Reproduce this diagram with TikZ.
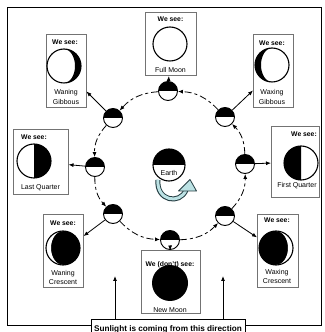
\documentclass[tikz,border=0pt]{standalone}
\usepackage{fontspec}
\setmainfont{Liberation Sans}
\usetikzlibrary{arrows.meta}
\definecolor{boxgray}{gray}{0.45}
\definecolor{spinfill}{RGB}{188,226,228}
\definecolor{spinline}{RGB}{35,60,65}

\tikzset{
  % lunar face as seen from Earth, radius 17
  pics/gibbous/.style={code={
    \fill[white] (0,0) circle (17);
    \fill[black] (0,17) arc (90:-90:17) arc (-90:90:#1 and 17) -- cycle;
    \draw[line width=1.1pt] (0,0) circle (17);}},
  pics/crescent/.style={code={
    \fill[black] (0,0) circle (17);
    \fill[white] (0,17) arc (90:270:17) arc (270:90:#1 and 17) -- cycle;
    \draw[line width=1.1pt] (0,0) circle (17);}},
  pics/quarter/.style={code={
    \fill[white] (0,0) circle (17);
    \fill[black] (0,17) arc (90:-90:17) -- cycle;
    \draw[line width=1.1pt] (0,0) circle (17);}}
}

\begin{document}
\begin{tikzpicture}[x=1pt,y=1pt,
  tip/.style={-{Latex[length=5pt,width=4pt]}, line width=0.8pt},
  orbitmoon/.style={circle,draw,line width=0.9pt,minimum size=19pt,inner sep=0pt,
    path picture={\fill[black] (path picture bounding box.west) rectangle (path picture bounding box.north east);}},
  phasebox/.style={draw=boxgray,line width=0.5pt,inner sep=0pt,anchor=south west},
  caption/.style={font=\fontsize{7}{9.5}\selectfont,align=center,inner sep=0pt},
  heading/.style={font=\bfseries\fontsize{6.8}{8}\selectfont,inner sep=0pt},
  orbit/.style={line width=0.8pt,dash pattern=on 7pt off 3pt on 3pt off 3pt,
    -{Latex[length=5pt,width=4pt]}, bend right=22}
]
\useasboundingbox (0,0) rectangle (324,332);
\fill[white] (0,0) rectangle (324,332);

% outer frame
\draw[line width=0.9pt] (7,7) rectangle (321,325);

% Earth and its rotation
\node[orbitmoon,minimum size=32pt,line width=1.1pt] (earth) at (169,167) {};
\node[font=\fontsize{7}{8}\selectfont,inner sep=0pt] (earthlabel) at (169,159.5) {Earth};
\draw[line width=5pt,spinline] (158,152) .. controls (156,131) and (180,127) .. (186,142);
\draw[line width=3pt,spinfill] (158,152.5) .. controls (156,131) and (180,127) .. (186,142);
\draw[fill=spinfill,draw=spinline,line width=0.8pt,line join=round]
  (178.5,141) -- (190,152.5) -- (196.5,141) -- cycle;

% Moon positions on the orbit
\node[orbitmoon] (mR)  at (245,168) {};
\node[orbitmoon] (mUR) at (225,215) {};
\node[orbitmoon] (mT)  at (168,241) {};
\node[orbitmoon] (mUL) at (113,214) {};
\node[orbitmoon] (mL)  at (95,165) {};
\node[orbitmoon] (mLL) at (113,118) {};
\node[orbitmoon] (mB)  at (170,92) {};
\node[orbitmoon] (mLR) at (225,116) {};

% orbital motion
\draw[orbit] (mB)  to (mLR);
\draw[orbit] (mLR) to (mR);
\draw[orbit] (mR)  to (mUR);
\draw[orbit] (mUR) to (mT);
\draw[orbit] (mT)  to (mUL);
\draw[orbit] (mUL) to (mL);
\draw[orbit] (mL)  to (mLL);
\draw[orbit] (mLL) to (mB);

% Full Moon
\node[phasebox,minimum width=51pt,minimum height=63pt] (fullbox) at (145,256) {};
\node[heading] (fullhead) at (170.5,313) {We see:};
\draw[line width=1.1pt,fill=white] (170,288) circle (17);
\node[caption] (fullcap) at (170.5,262) {Full Moon};

% Waning Gibbous
\node[phasebox,minimum width=40pt,minimum height=73pt] (wgibbox) at (46,224) {};
\node[heading] (wgibhead) at (65,290) {We see:};
\pic at (64,266) {gibbous=11};
\node[caption] (wgibcap) at (66,235) {Waning\\Gibbous};

% Waxing Gibbous
\node[phasebox,minimum width=40pt,minimum height=73pt] (xgibbox) at (253,224) {};
\node[heading] (xgibhead) at (272,289) {We see:};
\pic[xscale=-1] at (272,267) {gibbous=11};
\node[caption] (xgibcap) at (272,235) {Waxing\\Gibbous};

% Last Quarter
\node[phasebox,minimum width=55pt,minimum height=65pt] (lastbox) at (13,137) {};
\node[heading] (lasthead) at (34,195) {We see:};
\pic at (34,171) {quarter};
\node[caption] (lastcap) at (40.5,144) {Last Quarter};

% First Quarter
\node[phasebox,minimum width=48pt,minimum height=71pt] (firstbox) at (271,134) {};
\node[heading,anchor=east] (firsthead) at (317,198) {We see:};
\pic[xscale=-1] at (301,169) {quarter};
\node[caption] (firstcap) at (297,146) {First Quarter};

% Waning Crescent
\node[phasebox,minimum width=40pt,minimum height=73pt] (wcresbox) at (43,44) {};
\node[heading] (wcreshead) at (63,109) {We see:};
\pic at (63,84) {crescent=12};
\node[caption] (wcrescap) at (63,54.5) {Waning\\Crescent};

% Waxing Crescent
\node[phasebox,minimum width=41pt,minimum height=73pt] (xcresbox) at (257,44) {};
\node[heading] (xcreshead) at (277,112) {We see:};
\pic[xscale=-1] at (276,84) {crescent=12};
\node[caption] (xcrescap) at (277,55.5) {Waxing\\Crescent};

% New Moon
\node[phasebox,minimum width=59pt,minimum height=63pt] (newbox) at (141,18) {};
\node[heading] (newhead) at (170,67) {We (don't) see:};
\fill[black] (170,49) circle (18);
\node[caption] (newcap) at (170,22) {New Moon};

% what an observer sees at each position
\draw[tip] (mT)  -- (fullbox);
\draw[tip] (mUR) -- (xgibbox);
\draw[tip] (mR)  -- (firstbox);
\draw[tip] (mLR) -- (xcresbox);
\draw[tip] (mB)  -- (newbox);
\draw[tip] (mLL) -- (wcresbox);
\draw[tip] (mL)  -- (lastbox);
\draw[tip] (mUL) -- (wgibbox);

% sunlight
\node[draw,fill=white,line width=0.7pt,minimum width=154pt,minimum height=20pt,inner sep=0pt,
  font=\bfseries\fontsize{8.2}{9}\selectfont] (sunbox) at (168,3) {Sunlight is coming from this direction};
\coordinate (sunA) at (115,56);
\coordinate (sunB) at (223,56);
\draw[tip] (sunbox.north -| sunA) -- (sunA);
\draw[tip] (sunbox.north -| sunB) -- (sunB);
\end{tikzpicture}
\end{document}
